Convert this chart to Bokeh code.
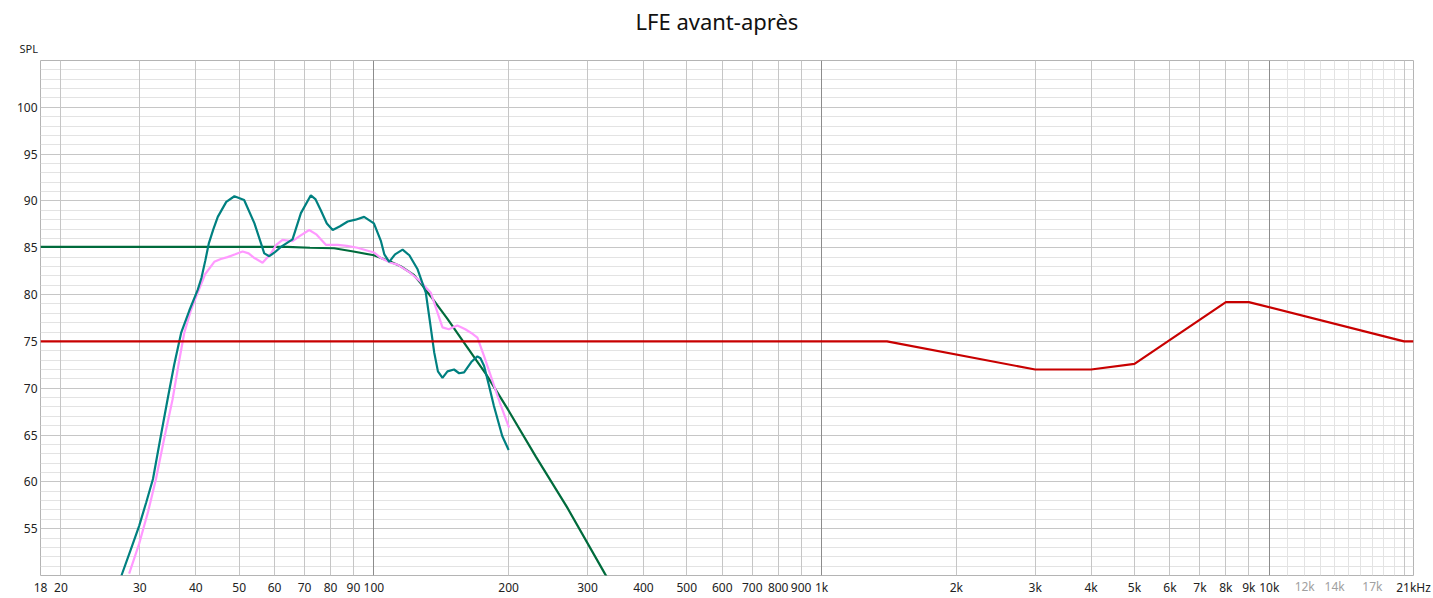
from bokeh.plotting import figure
from bokeh.models import FixedTicker, Grid, Range1d, CustomJSTickFormatter, Title, LogAxis
from bokeh.embed import file_html
from bokeh.resources import INLINE

# ---------------- data ----------------
title_text = "LFE avant-après"
y_label = "SPL"

# x axis tick labels (dark)
x_ticks = [18, 20, 30, 40, 50, 60, 70, 80, 90, 100, 200, 300, 400, 500, 600, 700, 800, 900,
           1000, 2000, 3000, 4000, 5000, 6000, 7000, 8000, 9000, 10000, 21000]
x_tick_labels = ["18", "20", "30", "40", "50", "60", "70", "80", "90", "100", "200", "300", "400",
                 "500", "600", "700", "800", "900", "1k", "2k", "3k", "4k", "5k", "6k", "7k",
                 "8k", "9k", "10k", "21kHz"]
# x axis tick labels (light grey)
x_light_ticks = [12000, 14000, 17000]
x_light_labels = ["12k", "14k", "17k"]

y_ticks = [55, 60, 65, 70, 75, 80, 85, 90, 95, 100]

# grid lines
xgrid_dark = [100, 1000, 10000]
xgrid_mid = [20, 30, 40, 50, 60, 70, 80, 90, 200, 300, 400, 500, 600, 700, 800, 900,
             2000, 3000, 4000, 5000, 6000, 7000, 8000, 9000, 20000]
xgrid_light = [11000, 12000, 13000, 14000, 15000, 16000, 17000, 18000, 19000]
ygrid_major = [55, 60, 65, 70, 75, 80, 85, 90, 95, 100]
ygrid_minor = [51, 52, 53, 54, 56, 57, 58, 59, 61, 62, 63, 64, 66, 67, 68, 69, 71, 72, 73, 74,
               76, 77, 78, 79, 81, 82, 83, 84, 86, 87, 88, 89, 91, 92, 93, 94, 96, 97, 98, 99,
               101, 102, 103, 104]

# measured response before correction (teal)
before_f = [27.3, 28.7, 29.9, 31.0, 32.1, 33.3, 34.6, 35.8, 37.1, 38.7, 40.4, 41.2, 42.0, 42.8,
            43.8, 44.8, 46.8, 48.8, 51.3, 54.1, 56.9, 58.4, 60.0, 62.0, 65.8, 68.7, 72.3, 74.0,
            76.1, 78.5, 80.9, 84.0, 87.4, 91.0, 95.1, 100.0, 103.7, 105.5, 108.2, 111.5, 115.9,
            120.0, 125.2, 130.6, 133.5, 136.4, 139.0, 142.3, 146.0, 151.0, 155.0, 159.0, 165.0,
            170.3, 173.0, 176.2, 180.5, 185.4, 193.5, 200.0]
before_db = [50.0, 52.9, 55.3, 57.8, 60.3, 64.5, 68.8, 72.5, 75.9, 78.3, 80.5, 81.8, 83.6, 85.5,
             87.0, 88.3, 89.9, 90.5, 90.1, 87.6, 84.4, 84.1, 84.5, 85.1, 85.9, 88.7, 90.6, 90.2,
             89.0, 87.6, 86.9, 87.3, 87.8, 88.0, 88.3, 87.6, 85.7, 84.3, 83.5, 84.3, 84.8,
             84.2, 82.7, 80.2, 77.0, 73.8, 71.8, 71.1, 71.8, 72.0, 71.6, 71.7, 72.8,
             73.4, 73.2, 72.4, 70.4, 68.1, 64.9, 63.4]

# measured response after correction (pink)
after_f = [28.4, 29.9, 31.3, 32.6, 34.0, 35.5, 36.6, 37.7, 39.0, 40.4, 42.0, 44.0, 45.5, 47.1,
           49.0, 50.9, 52.5, 54.1, 56.4, 58.9, 60.5, 62.5, 65.8, 68.5, 71.7, 74.5, 78.2, 83.0,
           87.0, 91.9, 100.0, 103.7, 109.0, 112.9, 120.0, 127.0, 134.0, 138.0, 142.3, 147.0,
           153.6, 160.0, 165.0, 170.3, 176.0, 182.5, 191.0, 200.4]
after_db = [50.2, 53.4, 56.8, 60.3, 64.6, 68.8, 72.5, 75.9, 78.3, 80.2, 82.2, 83.5, 83.8, 84.0,
            84.3, 84.6, 84.4, 83.9, 83.4, 84.4, 85.3, 85.85, 85.7, 86.3, 86.9, 86.4, 85.3, 85.3,
            85.2, 85.0, 84.5, 83.9, 83.4, 83.2, 82.4, 81.4, 80.2, 78.4, 76.5, 76.3,
            76.7, 76.3, 75.9, 75.4, 73.5, 71.3, 68.5, 65.8]

# target curve (dark green)
target_f = [18, 50, 64, 72, 81.5, 90, 100, 109, 115, 122.8, 127.3, 134, 146, 158.8, 178, 200,
            230, 270, 328, 340]
target_db = [85.1, 85.1, 85.1, 85.0, 84.95, 84.6, 84.2, 83.5, 83.0, 82.1, 81.2, 79.8, 77.4, 74.9,
             71.5, 67.6, 62.7, 57.3, 50.2, 48.9]

# house curve (red)
house_f = [18, 1400, 3000, 4000, 5000, 8000, 9000, 20000, 21000]
house_db = [75.0, 75.0, 72.0, 72.0, 72.6, 79.2, 79.2, 75.0, 75.0]

# ---------------- figure ----------------
FONT = "Noto Sans"
p = figure(width=1433, height=598, x_axis_type="log",
           x_range=Range1d(18, 21000), y_range=Range1d(50, 105),
           output_backend="svg", toolbar_location=None, title=None,
           min_border_left=40, min_border_right=20, min_border_top=60, min_border_bottom=23)
p.background_fill_color = "white"
p.border_fill_color = "white"
p.outline_line_color = "#b4b4b4"
p.outline_line_width = 1

p.xgrid.visible = False
p.ygrid.visible = False

for ticks, col, dim in [(ygrid_minor, "#e3e3e3", 1), (xgrid_light, "#e3e3e3", 0),
                        (ygrid_major, "#c6c6c6", 1), (xgrid_mid, "#c6c6c6", 0),
                        (xgrid_dark, "#8c8c8c", 0)]:
    p.add_layout(Grid(dimension=dim, ticker=FixedTicker(ticks=ticks, minor_ticks=[]),
                      grid_line_color=col, grid_line_width=1))

# axes
p.xaxis.ticker = FixedTicker(ticks=x_ticks, minor_ticks=[])
p.xaxis.formatter = CustomJSTickFormatter(
    args=dict(t=x_ticks, l=x_tick_labels),
    code="const i = t.findIndex(v => Math.abs(v - tick) < 1e-6 * v); return i >= 0 ? l[i] : '';")
p.yaxis.ticker = FixedTicker(ticks=y_ticks, minor_ticks=[])

light_axis = LogAxis(ticker=FixedTicker(ticks=x_light_ticks, minor_ticks=[]),
                     formatter=CustomJSTickFormatter(
                         args=dict(t=x_light_ticks, l=x_light_labels),
                         code="const i = t.findIndex(v => Math.abs(v - tick) < 1e-6 * v); return i >= 0 ? l[i] : '';"))
p.add_layout(light_axis, "below")

for ax in (p.xaxis[0], p.yaxis[0], light_axis):
    ax.axis_line_color = None
    ax.major_tick_line_color = None
    ax.minor_tick_line_color = None
    ax.major_tick_out = 0
    ax.major_tick_in = 0
    ax.major_label_standoff = 3
    ax.major_label_text_font = FONT
    ax.major_label_text_font_size = "12px"
    ax.major_label_text_color = "#222222"
light_axis.major_label_standoff = -21
light_axis.major_label_text_color = "#a0a0a0"

# curves
p.line(target_f, target_db, line_width=2.2, color="#006b3c")
p.line(after_f, after_db, line_width=2.2, color="#ff99ff")
p.line(before_f, before_db, line_width=2.2, color="#008080")
p.line(house_f, house_db, line_width=2.2, color="#c80000")

# titles (outside the frame)
spl = Title(text=y_label, align="left", offset=-21, standoff=10, text_font=FONT,
            text_font_size="11px", text_font_style="normal", text_color="#222222")
p.add_layout(spl, "above")
main = Title(text=title_text, align="left", offset=595, standoff=-5.5, text_font=FONT,
             text_font_size="22px", text_font_style="normal", text_color="#111111")
p.add_layout(main, "above")

open("out.html", "w").write(file_html(p, INLINE))
